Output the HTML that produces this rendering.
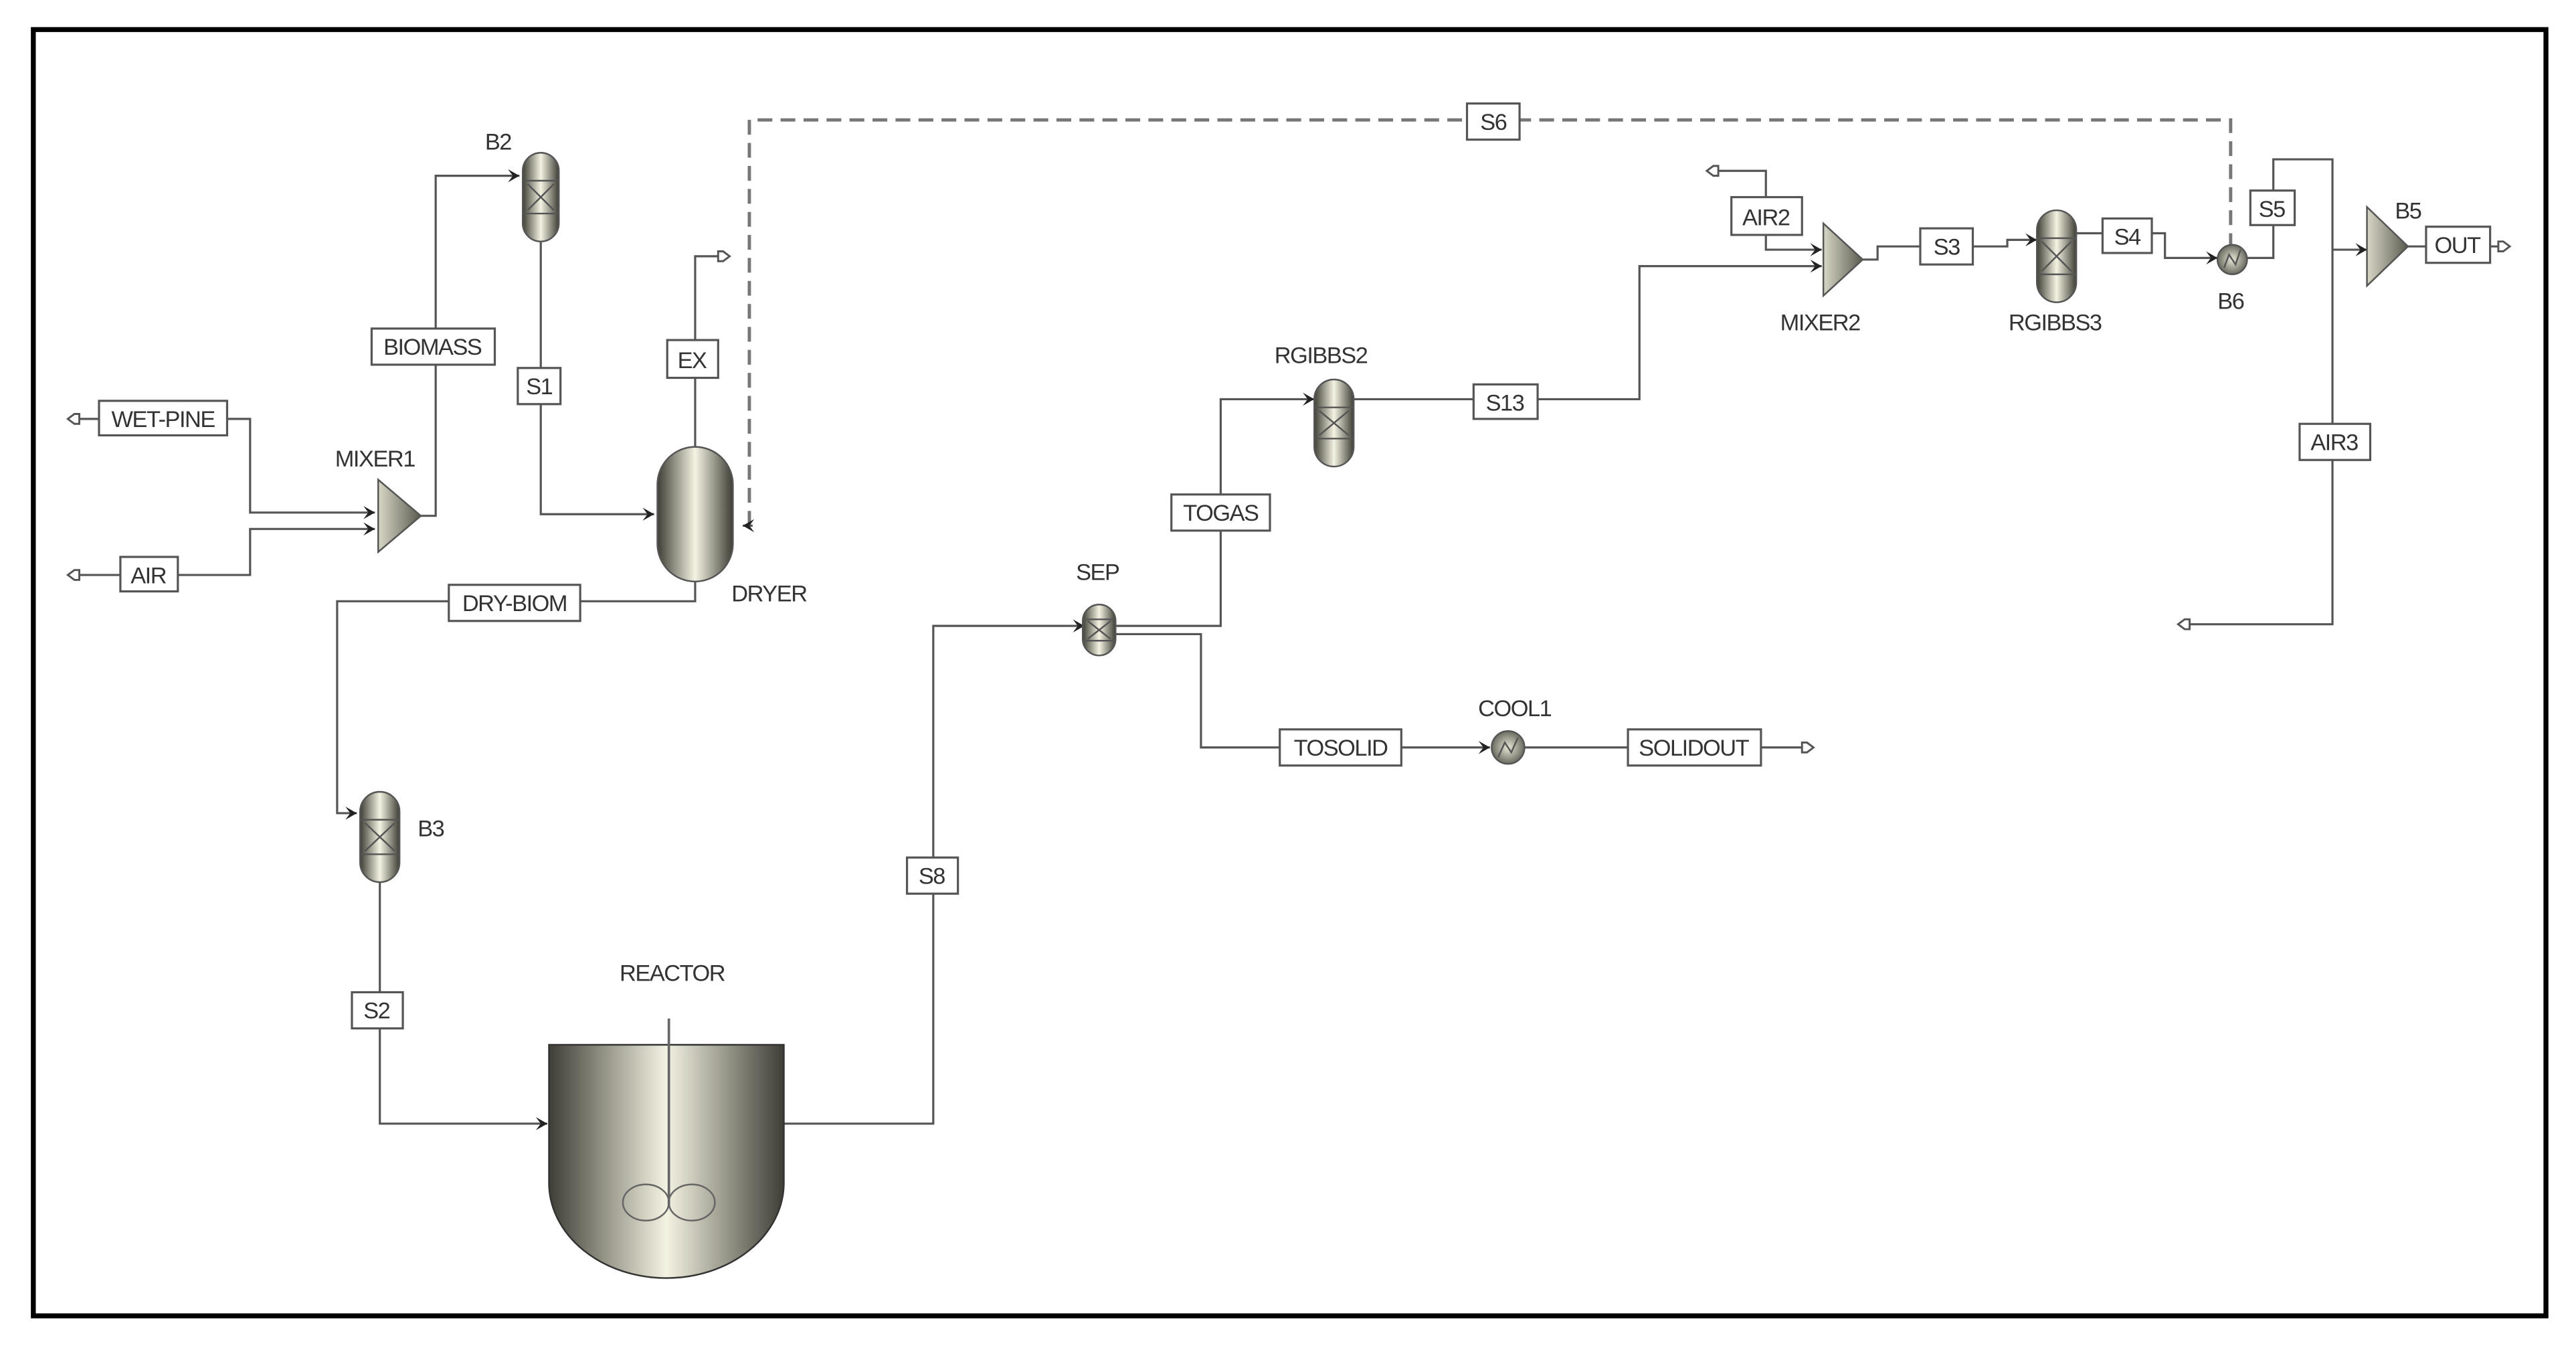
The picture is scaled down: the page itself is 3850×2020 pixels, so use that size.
<!DOCTYPE html>
<html><head><meta charset="utf-8"><style>
html,body{margin:0;padding:0;background:#fff;}
svg{display:block;}
text{font-family:"Liberation Sans",sans-serif;font-size:14px;fill:#333;letter-spacing:-0.6px;}
.l{fill:none;stroke:#555;stroke-width:1.3;}
.b{fill:#fff;stroke:#555;stroke-width:1.3;}
</style></head><body>
<svg width="3850" height="2020" viewBox="0 0 1568 823" xmlns="http://www.w3.org/2000/svg">
<defs>
<linearGradient id="g" x1="0" x2="1" y1="0" y2="0">
<stop offset="0" stop-color="#3e3e36"/><stop offset="0.5" stop-color="#f4f3e2"/><stop offset="1" stop-color="#3e3e36"/>
</linearGradient>
<linearGradient id="t" x1="0" x2="1" y1="0" y2="0">
<stop offset="0" stop-color="#d8d7c6"/><stop offset="1" stop-color="#5a5a50"/>
</linearGradient>
<radialGradient id="c"><stop offset="0" stop-color="#e8e7d6"/><stop offset="1" stop-color="#6a6a60"/></radialGradient>
<marker id="a" markerWidth="10" markerHeight="10" refX="8" refY="5" orient="auto" markerUnits="userSpaceOnUse">
<path d="M1,1 L8,5 L1,9 L4,5 Z" fill="#222"/></marker>
</defs>
<rect x="0" y="0" width="1568" height="823" fill="#fff"/>
<rect x="20" y="18" width="1530" height="783" fill="none" stroke="#000" stroke-width="3"/>

<!-- streams -->
<path class="l" d="M48,255 H60 M138,255 H152 V312 H228" marker-end="url(#a)"/>
<path class="l" d="M48,350 H73 M108,350 H152 V322 H228" marker-end="url(#a)"/>
<path class="l" d="M256,314 H265 V107 H316" marker-end="url(#a)"/>
<path class="l" d="M329,147 V313 H398" marker-end="url(#a)"/>
<path class="l" d="M423,272 V156 H438"/>
<path d="M456,320 V73 H1358 V150" fill="none" stroke="#777" stroke-width="2" stroke-dasharray="9,5"/>
<path class="l" d="M458,320 H452" marker-end="url(#a)"/>
<path class="l" d="M423,354 V366 H205 V495 H217" marker-end="url(#a)"/>
<path class="l" d="M231,537 V684 H333" marker-end="url(#a)"/>
<path class="l" d="M477,684 H568 V381 H660" marker-end="url(#a)"/>
<path class="l" d="M679,381 H743 V243 H800" marker-end="url(#a)"/>
<path class="l" d="M679,386 H731 V455 H907" marker-end="url(#a)"/>
<path class="l" d="M928,455 H1100"/>
<path class="l" d="M824,243 H998 V162 H1109" marker-end="url(#a)"/>
<path class="l" d="M1045,104 H1075 V152 H1109" marker-end="url(#a)"/>
<path class="l" d="M1134,158 H1143 V150 H1222 V146 H1240" marker-end="url(#a)"/>
<path class="l" d="M1264,142 H1318 V157 H1350" marker-end="url(#a)"/>
<path class="l" d="M1368,157 H1384 V97 H1420 V380 H1332"/>
<path class="l" d="M1420,152 H1441" marker-end="url(#a)"/>
<path class="l" d="M1466,150 H1477 M1516,150 H1522"/>

<!-- ports -->
<g fill="#fff" stroke="#555" stroke-width="1.2">
<path d="M41,255 l4,-3 h3 v6 h-3 z"/>
<path d="M41,350 l4,-3 h3 v6 h-3 z"/>
<path d="M444,156 l-4,-3 h-3 v6 h3 z"/>
<path d="M1104,455 l-4,-3 h-3 v6 h3 z"/>
<path d="M1039,104 l4,-3 h3 v6 h-3 z"/>
<path d="M1326,380 l4,-3 h3 v6 h-3 z"/>
<path d="M1528,150 l-4,-3 h-3 v6 h3 z"/>
</g>

<!-- blocks -->
<polygon points="230,292 230,336 256,314" fill="url(#t)" stroke="#555"/>
<polygon points="1110,136 1110,180 1134,158" fill="url(#t)" stroke="#555"/>
<polygon points="1441,126 1441,174 1466,150" fill="url(#t)" stroke="#555"/>

<g stroke="#555" stroke-width="1">
<rect x="318" y="93" width="22" height="54" rx="11" fill="url(#g)"/>
<path d="M318,110 H340 M318,130 H340 M321,112 L337,128 M337,112 L321,128" fill="none"/>
<rect x="219" y="482" width="24" height="55" rx="12" fill="url(#g)"/>
<path d="M219,499 H243 M219,520 H243 M222,501 L240,518 M240,501 L222,518" fill="none"/>
<rect x="800" y="231" width="24" height="53" rx="12" fill="url(#g)"/>
<path d="M800,248 H824 M800,267 H824 M803,250 L821,265 M821,250 L803,265" fill="none"/>
<rect x="1240" y="128" width="24" height="56" rx="12" fill="url(#g)"/>
<path d="M1240,145 H1264 M1240,167 H1264 M1243,147 L1261,165 M1261,147 L1243,165" fill="none"/>
<rect x="659" y="368" width="20" height="31" rx="10" fill="url(#g)"/>
<path d="M659,377 H679 M659,390 H679 M662,378 L676,389 M676,378 L662,389" fill="none"/>
<rect x="400" y="272" width="46" height="82" rx="23" fill="url(#g)"/>
<circle cx="918" cy="455" r="10" fill="url(#c)"/>
<path d="M912,461 L916,452 L920,458 L924,449" fill="none"/>
<circle cx="1359" cy="158" r="9" fill="url(#c)"/>
<path d="M1354,163 L1357,155 L1361,161 L1364,152" fill="none"/>
</g>

<!-- reactor -->
<path d="M334,636 H477 V720 A71.5,58 0 0 1 334,720 Z" fill="url(#g)" stroke="#333" stroke-width="1"/>
<line x1="407" y1="620" x2="407" y2="735" stroke="#666" stroke-width="1.5"/>
<ellipse cx="393" cy="732" rx="14" ry="11" fill="none" stroke="#666"/>
<ellipse cx="421" cy="732" rx="14" ry="11" fill="none" stroke="#666"/>

<!-- stream labels -->
<g>
<rect class="b" x="60" y="244" width="78" height="21"/><text x="99" y="260" text-anchor="middle">WET-PINE</text>
<rect class="b" x="73" y="339" width="35" height="21"/><text x="90" y="355" text-anchor="middle">AIR</text>
<rect class="b" x="226" y="200" width="75" height="22"/><text x="263" y="216" text-anchor="middle">BIOMASS</text>
<rect class="b" x="315" y="224" width="26" height="22"/><text x="328" y="240" text-anchor="middle">S1</text>
<rect class="b" x="406" y="207" width="31" height="23"/><text x="421" y="224" text-anchor="middle">EX</text>
<rect class="b" x="893" y="63" width="32" height="22"/><text x="909" y="79" text-anchor="middle">S6</text>
<rect class="b" x="273" y="356" width="80" height="22"/><text x="313" y="372" text-anchor="middle">DRY-BIOM</text>
<rect class="b" x="214" y="604" width="31" height="22"/><text x="229" y="620" text-anchor="middle">S2</text>
<rect class="b" x="552" y="522" width="31" height="22"/><text x="567" y="538" text-anchor="middle">S8</text>
<rect class="b" x="713" y="301" width="60" height="22"/><text x="743" y="317" text-anchor="middle">TOGAS</text>
<rect class="b" x="897" y="234" width="39" height="21"/><text x="916" y="250" text-anchor="middle">S13</text>
<rect class="b" x="779" y="444" width="74" height="22"/><text x="816" y="460" text-anchor="middle">TOSOLID</text>
<rect class="b" x="991" y="444" width="81" height="22"/><text x="1031" y="460" text-anchor="middle">SOLIDOUT</text>
<rect class="b" x="1054" y="120" width="43" height="23"/><text x="1075" y="137" text-anchor="middle">AIR2</text>
<rect class="b" x="1169" y="139" width="32" height="22"/><text x="1185" y="155" text-anchor="middle">S3</text>
<rect class="b" x="1280" y="133" width="30" height="21"/><text x="1295" y="149" text-anchor="middle">S4</text>
<rect class="b" x="1370" y="116" width="27" height="21"/><text x="1383" y="132" text-anchor="middle">S5</text>
<rect class="b" x="1400" y="258" width="43" height="22"/><text x="1421" y="274" text-anchor="middle">AIR3</text>
<rect class="b" x="1477" y="138" width="39" height="22"/><text x="1496" y="154" text-anchor="middle">OUT</text>
</g>

<!-- block labels -->
<g text-anchor="middle">
<text x="228" y="284">MIXER1</text>
<text x="303" y="91">B2</text>
<text x="468" y="366">DRYER</text>
<text x="262" y="509">B3</text>
<text x="409" y="597">REACTOR</text>
<text x="668" y="353">SEP</text>
<text x="804" y="221">RGIBBS2</text>
<text x="922" y="436">COOL1</text>
<text x="1108" y="201">MIXER2</text>
<text x="1251" y="201">RGIBBS3</text>
<text x="1358" y="188">B6</text>
<text x="1466" y="133">B5</text>
</g>
</svg>
</body></html>
